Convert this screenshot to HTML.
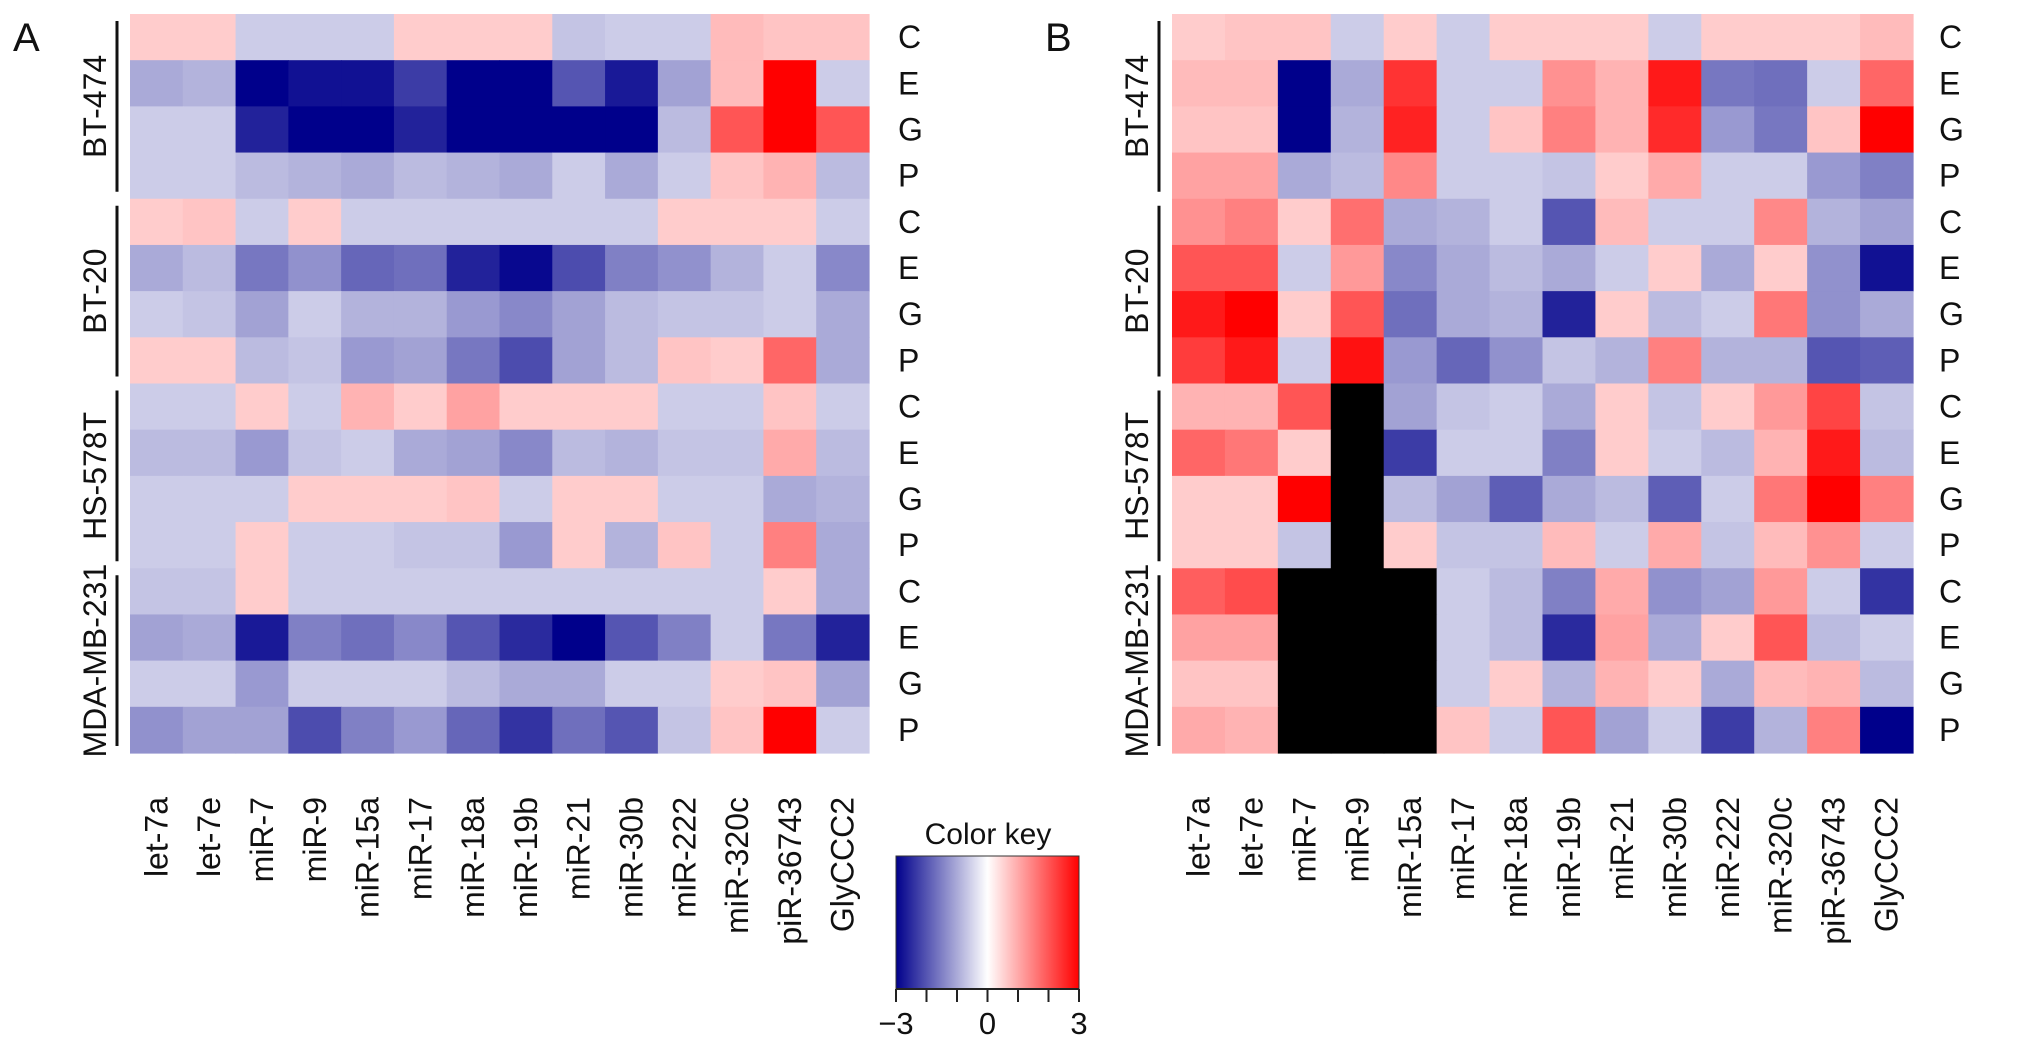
<!DOCTYPE html>
<html><head><meta charset="utf-8"><style>
html,body{margin:0;padding:0;background:#fff;}
svg text{font-family:"Liberation Sans",Arial,sans-serif;fill:#111;}
</style></head><body>
<svg id="fig" width="2032" height="1045" viewBox="0 0 2032 1045" xmlns="http://www.w3.org/2000/svg"></svg>
<script>
const columns = ["let-7a","let-7e","miR-7","miR-9","miR-15a","miR-17","miR-18a","miR-19b","miR-21","miR-30b","miR-222","miR-320c","piR-36743","GlyCCC2"];
const groups = ["BT-474","BT-20","HS-578T","MDA-MB-231"];
const conditions = ["C","E","G","P"];
const valuesA = [
[0.6,0.6,-0.6,-0.6,-0.6,0.6,0.6,0.6,-0.7,-0.6,-0.6,0.8,0.7,0.7],
[-1.0,-0.9,-3,-2.8,-2.8,-2.3,-3,-3,-2,-2.7,-1.1,0.8,3,-0.6],
[-0.6,-0.6,-2.6,-3,-3,-2.6,-3,-3,-3,-3,-0.8,2,3,2],
[-0.6,-0.6,-0.8,-0.9,-1.0,-0.8,-0.9,-1.0,-0.6,-1.0,-0.6,0.7,0.9,-0.8],
[0.6,0.7,-0.6,0.6,-0.6,-0.6,-0.6,-0.6,-0.6,-0.6,0.6,0.6,0.6,-0.6],
[-1.0,-0.8,-1.6,-1.3,-1.8,-1.7,-2.6,-2.9,-2.1,-1.5,-1.3,-0.9,-0.6,-1.4],
[-0.6,-0.7,-1.1,-0.6,-0.9,-0.9,-1.2,-1.4,-1.1,-0.8,-0.7,-0.7,-0.6,-1.0],
[0.6,0.6,-0.8,-0.7,-1.2,-1.1,-1.6,-2.1,-1.1,-0.8,0.7,0.6,1.8,-1.0],
[-0.6,-0.6,0.6,-0.6,0.9,0.6,1.1,0.6,0.6,0.6,-0.6,-0.6,0.7,-0.6],
[-0.8,-0.8,-1.2,-0.7,-0.6,-1.0,-1.1,-1.4,-0.8,-0.9,-0.7,-0.7,1.0,-0.8],
[-0.6,-0.6,-0.6,0.6,0.6,0.6,0.7,-0.6,0.6,0.6,-0.6,-0.6,-1.0,-0.9],
[-0.6,-0.6,0.6,-0.6,-0.6,-0.7,-0.7,-1.2,0.6,-0.9,0.7,-0.6,1.5,-1.0],
[-0.7,-0.7,0.6,-0.6,-0.6,-0.6,-0.6,-0.6,-0.6,-0.6,-0.6,-0.6,0.6,-1.0],
[-1.1,-1.0,-2.7,-1.5,-1.7,-1.4,-2,-2.5,-3,-2,-1.5,-0.6,-1.6,-2.6],
[-0.6,-0.6,-1.2,-0.6,-0.6,-0.6,-0.8,-1.0,-1.0,-0.6,-0.6,0.6,0.7,-1.1],
[-1.3,-1.1,-1.1,-2.1,-1.5,-1.2,-1.8,-2.4,-1.7,-2,-0.7,0.7,3,-0.6]
];
const valuesB = [
[0.6,0.7,0.7,-0.6,0.6,-0.6,0.6,0.6,0.6,-0.6,0.6,0.6,0.6,0.8],
[0.8,0.8,-3,-1.0,2.4,-0.6,-0.6,1.3,0.9,2.7,-1.6,-1.7,-0.6,1.8],
[0.7,0.7,-3,-0.9,2.6,-0.6,0.7,1.5,0.9,2.5,-1.2,-1.6,0.7,3],
[1.1,1.1,-1.0,-0.8,1.4,-0.6,-0.6,-0.7,0.6,1.0,-0.6,-0.6,-1.2,-1.5],
[1.3,1.5,0.6,1.7,-1.0,-0.9,-0.6,-2,0.8,-0.6,-0.6,1.4,-0.9,-1.1],
[2,2,-0.6,1.2,-1.4,-1.0,-0.8,-1.0,-0.6,0.6,-1.0,0.6,-1.3,-2.8],
[2.7,3,0.6,2,-1.7,-1.0,-0.9,-2.6,0.6,-0.8,-0.6,1.6,-1.3,-1.0],
[2.3,2.7,-0.6,2.8,-1.2,-1.8,-1.3,-0.7,-0.9,1.5,-0.9,-0.9,-2,-1.9],
[0.9,0.9,2,null,-1.1,-0.7,-0.6,-1.0,0.6,-0.7,0.6,1.2,2.2,-0.7],
[1.8,1.6,0.6,null,-2.3,-0.6,-0.6,-1.5,0.6,-0.6,-0.8,0.9,2.7,-0.8],
[0.6,0.6,3,null,-0.8,-1.1,-1.9,-1.0,-0.8,-1.9,-0.6,1.6,3,1.5],
[0.6,0.6,-0.7,null,0.6,-0.7,-0.7,0.8,-0.6,1.0,-0.7,0.8,1.3,-0.6],
[1.9,2.1,null,null,null,-0.6,-0.8,-1.5,1.0,-1.3,-1.1,1.2,-0.6,-2.4],
[1.1,1.1,null,null,null,-0.6,-0.8,-2.5,1.1,-1.0,0.6,2,-0.8,-0.6],
[0.7,0.7,null,null,null,-0.6,0.6,-0.9,0.9,0.6,-1.0,0.8,0.9,-0.8],
[1.0,0.9,null,null,null,0.7,-0.6,2,-1.1,-0.6,-2.3,-0.9,1.5,-3]
];
const keyTicks = [-3,-2,-1,0,1,2,3];
const keyLabels = [-3,0,3];

const NS="http://www.w3.org/2000/svg";
const svg=document.getElementById('fig');
function mk(tag,attrs,parent){const e=document.createElementNS(NS,tag);for(const k in attrs)e.setAttribute(k,attrs[k]);(parent||svg).appendChild(e);return e;}
function color(v){
  if(v===null) return '#000';
  const t=Math.min(1,Math.abs(v)/3);
  if(v<0) return `rgb(${Math.round(255*(1-t))},${Math.round(255*(1-t))},${Math.round(255-116*t)})`;
  return `rgb(255,${Math.round(255*(1-t))},${Math.round(255*(1-t))})`;
}
const TOP=14, BOTTOM=753, NR=16, NC=14;
const rowH=(BOTTOM-TOP)/NR;
function yRow(i){return TOP+i*rowH;}

function panel(letter, left, right, vals, letterX, lineX, groupX, rowLabX){
  const colW=(right-left)/NC;
  const xCol=j=>left+j*colW;
  const g=mk('g',{});
  
  
  const pl=mk('text',{x:letterX,y:51,'font-size':40},g);pl.textContent=letter;
  
  
  vals.forEach((row,i)=>row.forEach((v,j)=>{
    const r=mk('rect',{x:xCol(j).toFixed(2),y:yRow(i).toFixed(2),width:(colW+0.6).toFixed(2),height:(rowH+0.6).toFixed(2),fill:color(v)},g);
    
    
  }));
  for(let i=0;i<NR;i++){
    const t=mk('text',{x:rowLabX,y:yRow(i)+rowH/2+11,'font-size':32},g);t.textContent=conditions[i%4];
    
    
  }
  groups.forEach((gn,k)=>{
    const y0=yRow(k*4)+7, y1=yRow(k*4+4)-7;
    const l=mk('line',{x1:lineX,x2:lineX,y1:y0,y2:y1,stroke:'#111','stroke-width':3},g);
    
    
    const cy=(y0+y1)/2;
    const t=mk('text',{x:groupX,y:cy,'font-size':32,'text-anchor':'middle','dominant-baseline':'central',transform:`rotate(-90 ${groupX} ${cy})`},g);
    t.textContent=gn;
    
    
  });
  columns.forEach((c,j)=>{
    const cx=xCol(j)+colW/2, y=797;
    const t=mk('text',{x:cx,y:y,'font-size':32,'text-anchor':'end','dominant-baseline':'central',transform:`rotate(-90 ${cx} ${y})`},g);
    t.textContent=c;
    
    
  });
}
panel('A',130,869,valuesA,13,117,95,898);
panel('B',1172,1913,valuesB,1045,1159,1137,1939);

// color key
const KL=896, KR=1079, KT=856, KB=989;
const kx=v=>KL+(v+3)/6*(KR-KL);
const defs=mk('defs',{});
const grad=mk('linearGradient',{id:'kg',x1:0,x2:1,y1:0,y2:0},defs);
keyTicks.forEach(v=>{mk('stop',{offset:((v+3)/6),'stop-color':color(v)},grad);});
const kg=mk('g',{});


const kt=mk('text',{x:988,y:844,'font-size':30,'text-anchor':'middle'},kg);kt.textContent='Color key';


const kr=mk('rect',{x:KL,y:KT,width:KR-KL,height:KB-KT,fill:'url(#kg)',stroke:'#333','stroke-width':1},kg);


mk('line',{x1:KL,x2:KR,y1:KB,y2:KB,stroke:'#222','stroke-width':2},kg);
keyTicks.forEach(v=>{
  const l=mk('line',{x1:kx(v),x2:kx(v),y1:KB,y2:KB+13,stroke:'#222','stroke-width':2},kg);
  
  
});
keyLabels.forEach(v=>{
  const t=mk('text',{x:kx(v),y:1034,'font-size':31,'text-anchor':'middle'},kg);t.textContent=v===-3?'\u22123':String(v);
  
  
});
</script>
</body></html>
